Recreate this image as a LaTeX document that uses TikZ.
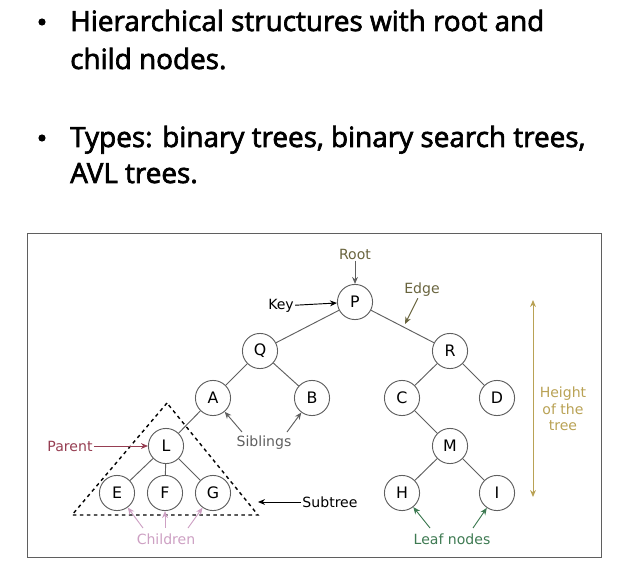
\documentclass[tikz,border=0pt]{standalone}
\usepackage{fontspec}
\newfontfamily\headfont{Open Sans}[FakeBold=2.4]
\newfontfamily\diagfont{DejaVu Sans}
\usetikzlibrary{arrows.meta}
\definecolor{rootcol}{RGB}{105,100,62}
\definecolor{heightcol}{RGB}{185,162,85}
\definecolor{parentcol}{RGB}{150,62,82}
\definecolor{childcol}{RGB}{205,160,195}
\definecolor{leafcol}{RGB}{62,122,82}
\definecolor{linecol}{RGB}{95,95,95}
\tikzset{
  tnode/.style={circle,draw=linecol,thick,minimum size=30pt,inner sep=0pt,font=\diagfont\fontsize{13.5}{13.5}\selectfont},
  lbl/.style={font=\diagfont\fontsize{12}{14}\selectfont,inner sep=1pt},
  bullettext/.style={anchor=base west,inner sep=0pt,font=\headfont\fontsize{23.8}{24}\selectfont},
  tedge/.style={draw=linecol,thick},
  pointer/.style={-{Stealth[length=6pt,width=5pt]},thick}
}
\begin{document}
\begin{tikzpicture}[x=0.03cm,y=-0.03cm]
\useasboundingbox (0,0) rectangle (622,568);
% bullet points
\fill (42,22) circle (3.6);
\node[bullettext] (t1) at (70,31) {Hierarchical structures with root and};
\node[bullettext] (t2) at (70,69) {child nodes.};
\fill (42,138) circle (3.6);
\node[bullettext] (t3) at (70,147) {Types: binary trees, binary search trees,};
\node[bullettext] (t4) at (70,183) {AVL trees.};
% frame
\draw[linecol,thick] (27,233) rectangle (601,557);
% tree nodes
\node[tnode] (P) at (355,302) {P};
\node[tnode] (Q) at (260,351) {Q};
\node[tnode] (R) at (450,351) {R};
\node[tnode] (A) at (213,398) {A};
\node[tnode] (B) at (312,398) {B};
\node[tnode] (C) at (402,398) {C};
\node[tnode] (D) at (497,398) {D};
\node[tnode] (L) at (166,446) {L};
\node[tnode] (M) at (450,446) {M};
\node[tnode] (E) at (117,493) {E};
\node[tnode] (F) at (165,493) {F};
\node[tnode] (G) at (213,493) {G};
\node[tnode] (H) at (402,493) {H};
\node[tnode] (I) at (497,493) {I};
% edges
\draw[tedge] (P)--(Q) (P)--(R) (Q)--(A) (Q)--(B) (R)--(C) (R)--(D)
  (A)--(L) (L)--(E) (L)--(F) (L)--(G) (C)--(M) (M)--(H) (M)--(I);
% subtree
\draw[very thick,dashed] (167,403)--(72,515)--(258,515)--cycle;
% labels
\node[lbl,text=rootcol] (root) at (355,254) {Root};
\draw[pointer,linecol] (root)--(P);
\node[lbl] (key) at (281,306) {Key};
\draw[pointer] (key)--(P);
\node[lbl,text=rootcol] (edge) at (422,290) {Edge};
\coordinate (edgept) at (405,324);
\draw[pointer,rootcol] (edge)--(edgept);
\node[lbl,text=parentcol] (parent) at (70,446) {Parent};
\draw[pointer,parentcol] (parent)--(L);
\node[lbl,text=linecol] (sib) at (264,443) {Siblings};
\draw[pointer,linecol] (242,432)--(A);
\draw[pointer,linecol] (287,432)--(B);
\node[lbl] (sub) at (330,502) {Subtree};
\coordinate (subpt) at (258,502);
\draw[pointer] (sub)--(subpt);
\node[lbl,text=childcol] (child) at (166,539) {Children};
\draw[pointer,childcol] (143,528)--(E);
\draw[pointer,childcol] (165,528)--(F);
\draw[pointer,childcol] (188,528)--(G);
\node[lbl,text=leafcol] (leaf) at (452,539) {Leaf nodes};
\draw[pointer,leafcol] (430,528)--(H);
\draw[pointer,leafcol] (473,528)--(I);
% height
\coordinate (htop) at (533,300);
\coordinate (hbot) at (533,497);
\draw[{Stealth[length=6pt,width=5pt]}-{Stealth[length=6pt,width=5pt]},heightcol,thick] (htop)--(hbot);
\node[lbl,text=heightcol,align=center] (height) at (563,409) {Height\\of the\\tree};
\end{tikzpicture}
\end{document}
